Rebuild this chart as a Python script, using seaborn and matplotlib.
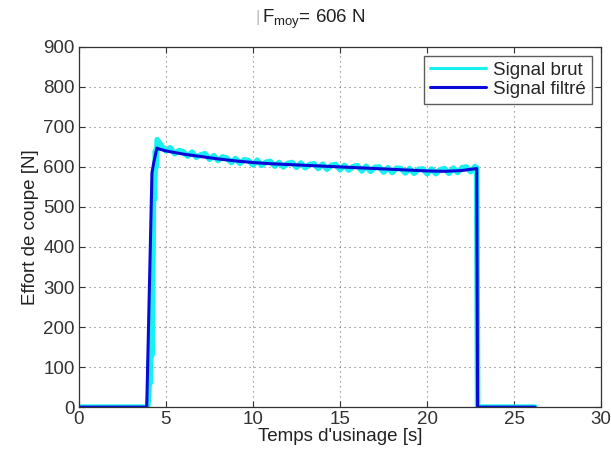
import matplotlib
matplotlib.use("Agg")
import matplotlib.pyplot as plt
import seaborn as sns
import pandas as pd

# ---- data ----
t_brut = [0, 3.95, 4.02, 4.06, 4.1, 4.15, 4.2, 4.25, 4.3, 4.35, 4.4, 4.45,
          4.50, 4.75, 5.00, 5.25, 5.50, 5.75, 6.00, 6.25, 6.50, 6.75, 7.00, 7.25,
          7.50, 7.75, 8.00, 8.25, 8.50, 8.75, 9.00, 9.25, 9.50, 9.75, 10.00, 10.25,
          10.50, 10.75, 11.00, 11.25, 11.50, 11.75, 12.00, 12.25, 12.50, 12.75, 13.00,
          13.25, 13.50, 13.75, 14.00, 14.25, 14.50, 14.75, 15.00, 15.25, 15.50, 15.75,
          16.00, 16.25, 16.50, 16.75, 17.00, 17.25, 17.50, 17.75, 18.00, 18.25, 18.50,
          18.75, 19.00, 19.25, 19.50, 19.75, 20.00, 20.25, 20.50, 20.75, 21.00, 21.25,
          21.50, 21.75, 22.00, 22.25, 22.50, 22.75, 22.85, 22.9, 26.2]
f_brut = [0, 0, 30, 120, 60, 180, 130, 340, 580, 520, 640, 600,
          668, 652, 640, 648, 633, 641, 638, 627, 637, 624, 630, 633,
          619, 628, 616, 625, 622, 611, 621, 609, 618, 616, 605, 617,
          604, 612, 614, 602, 611, 600, 609, 611, 599, 610, 598,
          606, 608, 596, 607, 594, 604, 606, 593, 604, 592, 601,
          603, 590, 602, 589, 599, 600, 587, 598, 586, 597, 596,
          585, 596, 584, 594, 595, 583, 595, 583, 593, 596, 584,
          597, 586, 598, 600, 588, 601, 598, 0, 0]

t_filt = [0, 3.9, 4.2, 4.3, 4.48, 4.6, 5, 6, 7, 8, 9, 10, 11, 12, 13,
          14, 15, 16, 17, 18, 19, 20, 21, 22, 22.5, 22.85, 22.9, 26.2]
f_filt = [0, 0, 585, 610, 647, 645, 640, 632, 626, 620, 615, 611, 608,
          606, 604, 602, 600, 598, 596, 594, 592, 590, 589, 591, 594, 596, 0, 0]

x_ticks = [0, 5, 10, 15, 20, 25, 30]
y_ticks = [0, 100, 200, 300, 400, 500, 600, 700, 800, 900]
title_text = r"$\mathregular{F_{moy}}$= 606 N"
x_label = "Temps d'usinage [s]"
y_label = "Effort de coupe [N]"
labels = ["Signal brut", "Signal filtré"]

# ---- plot ----
sns.set_style("ticks")
plt.rcParams["font.family"] = ["Liberation Sans", "DejaVu Sans"]
plt.rcParams["mathtext.fontset"] = "custom"
plt.rcParams["mathtext.rm"] = "Liberation Sans"

fig = plt.figure(figsize=(6.11, 4.59), dpi=100)
ax = fig.add_axes([0.129, 0.113, 0.855, 0.785])

df_b = pd.DataFrame({"t": t_brut, "f": f_brut})
df_f = pd.DataFrame({"t": t_filt, "f": f_filt})
sns.lineplot(data=df_b, x="t", y="f", ax=ax, color="#19f0f0", lw=4,
             label=labels[0], estimator=None, sort=False)
sns.lineplot(data=df_f, x="t", y="f", ax=ax, color="#0a0ad8", lw=2.2,
             label=labels[1], estimator=None, sort=False)

ax.set_xlim(0, 30)
ax.set_ylim(0, 900)
ax.set_xticks(x_ticks)
ax.set_yticks(y_ticks)
ax.grid(True, color="#777777", linestyle=(0, (1, 3.5)), linewidth=0.8)
ax.tick_params(direction="in", length=4, top=True, right=True,
               labelsize=13.5, colors="#333333", width=0.8, pad=3)
for s in ax.spines.values():
    s.set_color("#333333")
    s.set_linewidth(0.9)

ax.set_xlabel(x_label, fontsize=13.5, color="#222222", labelpad=0)
ax.set_ylabel(y_label, fontsize=13.5, color="#222222", labelpad=3)
fig.text(0.428, 0.958, title_text, fontsize=13.5, color="#222222",
         ha="left", va="center")
fig.text(0.421, 0.962, "|", fontsize=12, color="#bbbbbb", ha="center", va="center")

leg = ax.legend(loc="upper right", fontsize=13.5, frameon=True, fancybox=False,
                edgecolor="#333333", handlelength=3.0, borderpad=0.3,
                labelspacing=0.1, handletextpad=0.4, borderaxespad=0.5)
leg.get_frame().set_linewidth(1.0)
for lh in leg.get_lines():
    lh.set_linewidth(2.2)

fig.savefig("out.png", dpi=100)
